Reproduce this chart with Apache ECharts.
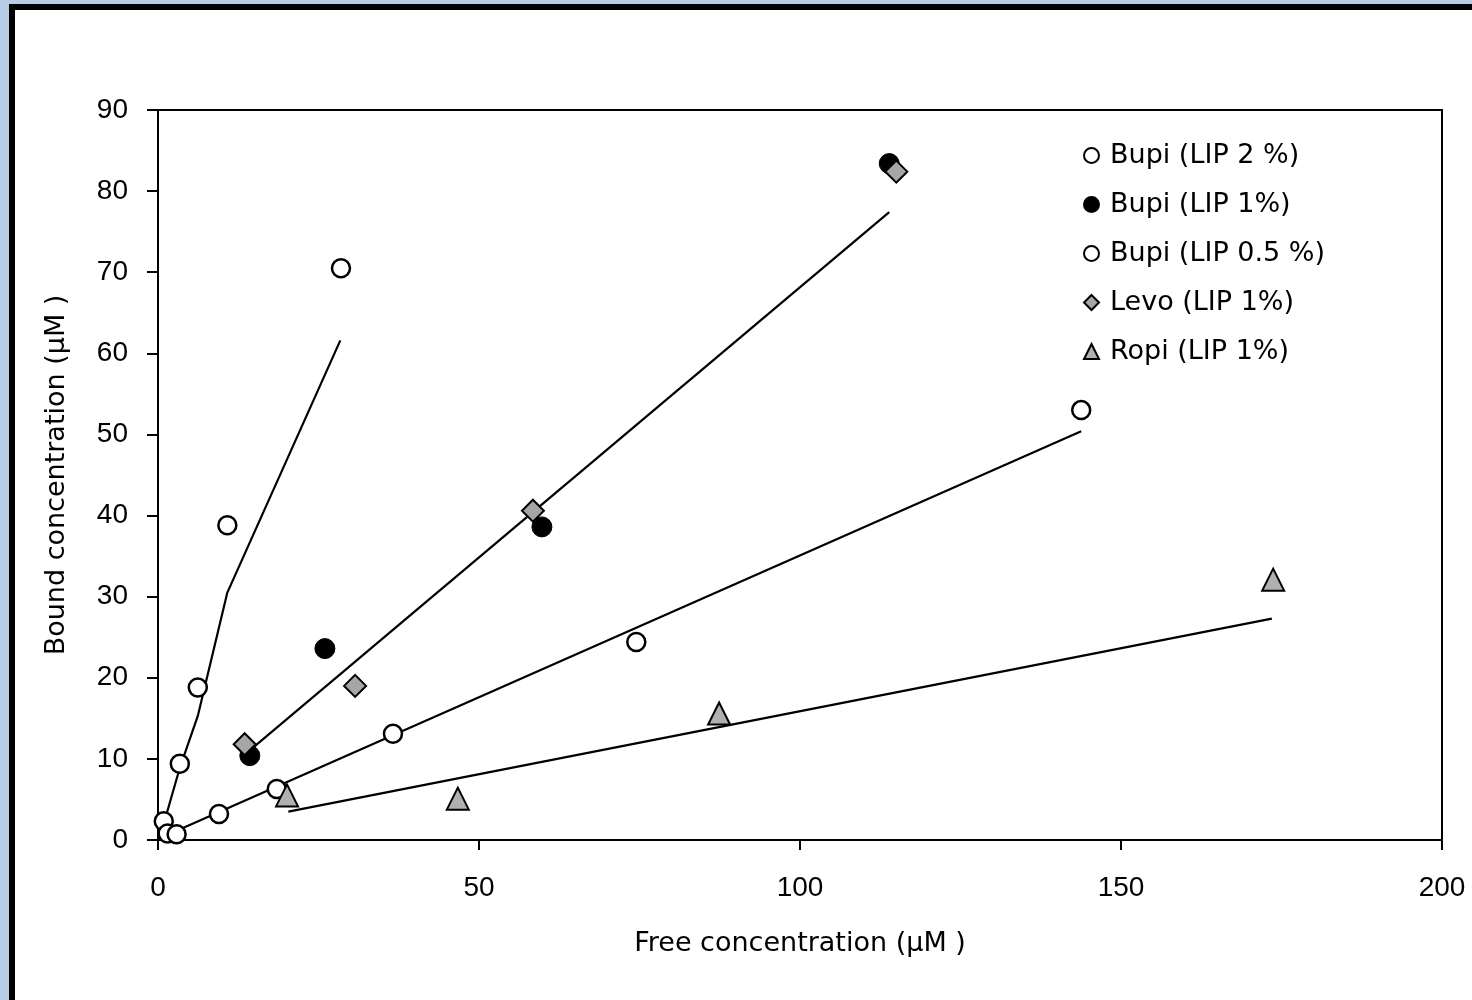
<!DOCTYPE html>
<html>
<head>
<meta charset="utf-8">
<script src="https://cdn.jsdelivr.net/npm/echarts@6/dist/echarts.min.js"></script>
<style>
  html, body { margin: 0; padding: 0; background: #b8cce4; }
  #frame {
    position: absolute; left: 9px; top: 4px; width: 1500px; height: 1100px;
    background: #fff; border-left: 6px solid #000; border-top: 6px solid #000;
  }
  #main { position: absolute; left: 0; top: 0; width: 1472px; height: 1000px; }
</style>
</head>
<body>
<div id="frame"></div>
<div id="main"></div>
<script>
// legend names
const seriesNames = ['Bupi (LIP 2 %)', 'Bupi (LIP 1%)', 'Bupi (LIP 0.5 %)', 'Levo (LIP 1%)', 'Ropi (LIP 1%)'];

// measured points [free, bound]
const bupi2 = [[0.9, 2.3], [3.4, 9.4], [6.2, 18.8], [10.8, 38.8], [28.5, 70.5]];
const bupi1 = [[14.3, 10.4], [26.0, 23.6], [59.8, 38.6], [113.9, 83.4]];
const bupi05 = [[1.5, 0.8], [2.9, 0.7], [9.5, 3.2], [18.5, 6.3], [36.6, 13.1], [74.5, 24.4], [143.8, 53.0]];
const levo = [[13.5, 11.8], [30.7, 19.0], [58.4, 40.6], [115.0, 82.4]];
const ropi = [[20.1, 5.5], [46.7, 5.1], [87.4, 15.6], [173.7, 32.1]];

// fitted lines
const fitBupi2 = [[0.9, 2.0], [3.4, 8.9], [6.2, 15.3], [10.8, 30.5], [28.4, 61.6]];
const fitBupi1 = [[14.8, 11.4], [113.9, 77.4]];
const fitBupi05 = [[2.2, 0.9], [143.8, 50.4]];
const fitRopi = [[20.3, 3.5], [173.5, 27.3]];

const xTicks = [0, 50, 100, 150, 200];
const yTicks = [0, 10, 20, 30, 40, 50, 60, 70, 80, 90];

const chart = echarts.init(document.getElementById('main'));

const fontFam = '"Liberation Sans", Arial, sans-serif';
const wideFam = '"DejaVu Sans", sans-serif';

const fitLine = (data) => ({
  type: 'line',
  data: data,
  symbol: 'none',
  lineStyle: { color: '#000', width: 2.2 },
  silent: true,
  z: 1
});

const option = {
  backgroundColor: 'transparent',
  animation: false,
  grid: { left: 158, right: 30, top: 110, bottom: 160, show: true, borderColor: '#000', borderWidth: 2 },
  legend: {
    data: seriesNames,
    orient: 'vertical',
    left: 1078,
    top: 137,
    itemGap: 22,
    itemWidth: 15,
    itemHeight: 15,
    textStyle: { fontFamily: wideFam, fontSize: 27, color: '#000', padding: [0, 0, 0, 6] }
  },
  xAxis: {
    type: 'value',
    min: xTicks[0],
    max: xTicks[xTicks.length - 1],
    interval: 50,
    name: 'Free concentration (µM )',
    nameLocation: 'middle',
    nameGap: 90,
    nameTextStyle: { fontFamily: wideFam, fontSize: 27, color: '#000' },
    axisLine: { lineStyle: { color: '#000', width: 2 } },
    axisTick: { length: 10, lineStyle: { color: '#000', width: 2 } },
    axisLabel: { margin: 34, fontFamily: fontFam, fontSize: 28, color: '#000' },
    splitLine: { show: false }
  },
  yAxis: {
    type: 'value',
    min: yTicks[0],
    max: yTicks[yTicks.length - 1],
    interval: 10,
    name: 'Bound concentration (µM )',
    nameLocation: 'middle',
    nameGap: 88,
    nameTextStyle: { fontFamily: wideFam, fontSize: 27, color: '#000' },
    axisLine: { show: true, lineStyle: { color: '#000', width: 2 } },
    axisTick: { show: true, length: 11, lineStyle: { color: '#000', width: 2 } },
    axisLabel: { margin: 30, fontFamily: fontFam, fontSize: 28, color: '#000' },
    splitLine: { show: false }
  },
  series: [
    fitLine(fitBupi2),
    fitLine(fitBupi1),
    fitLine(fitBupi05),
    fitLine(fitRopi),
    {
      name: seriesNames[0], type: 'scatter', data: bupi2, symbol: 'circle', symbolSize: 18,
      itemStyle: { color: '#fff', borderColor: '#000', borderWidth: 2.5, opacity: 1 }, z: 3
    },
    {
      name: seriesNames[1], type: 'scatter', data: bupi1, symbol: 'circle', symbolSize: 20,
      itemStyle: { color: '#000', borderColor: '#000', borderWidth: 1, opacity: 1 }, z: 3
    },
    {
      name: seriesNames[2], type: 'scatter', data: bupi05, symbol: 'circle', symbolSize: 18,
      itemStyle: { color: '#fff', borderColor: '#000', borderWidth: 2.5, opacity: 1 }, z: 3
    },
    {
      name: seriesNames[3], type: 'scatter', data: levo, symbol: 'diamond', symbolSize: 22,
      itemStyle: { color: '#a6a6a6', borderColor: '#000', borderWidth: 2, opacity: 1 }, z: 3
    },
    {
      name: seriesNames[4], type: 'scatter', data: ropi, symbol: 'triangle', symbolSize: 22,
      itemStyle: { color: '#b0b0b0', borderColor: '#000', borderWidth: 2, opacity: 1 }, z: 3
    }
  ]
};

chart.setOption(option);
</script>
</body>
</html>
